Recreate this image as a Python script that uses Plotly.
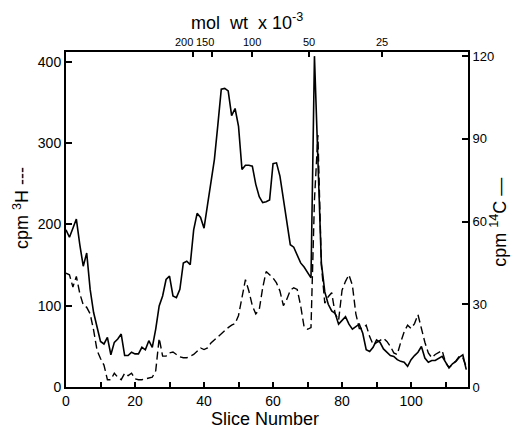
import plotly.graph_objects as go

slices = list(range(0, 117))

# cpm 3H (dashed, left axis)
h3_cpm = [140, 138, 123, 136, 115, 101, 98, 90, 70, 45,
          35, 27, 9, 9, 17, 12, 9, 17, 14, 17,
          10, 9, 9, 10, 11, 12, 20, 60, 38, 38,
          42, 43, 40, 37, 36, 36, 38, 40, 44, 48,
          46, 48, 54, 58, 62, 66, 70, 73, 76, 78,
          88, 110, 132, 118, 100, 90, 95, 122, 142, 138,
          134, 128, 118, 100, 108, 119, 122, 120, 100, 74,
          71, 73, 230, 310, 150, 103, 111, 116, 90, 82,
          119, 130, 138, 125, 90, 72, 72, 76, 62, 52,
          55, 57, 60, 56, 50, 42, 40, 55, 68, 76,
          72, 78, 89, 72, 55, 42, 36, 40, 43, 45,
          30, 24, 28, 32, 38, 36, 25]

# cpm 14C (solid, right axis)
c14_cpm = [57.0, 54.3, 57.6, 60.9, 51.6, 43.8, 48.6, 35.4, 27.0, 22.2,
           16.5, 15.6, 18.0, 11.7, 16.2, 17.4, 19.2, 11.4, 11.4, 12.6,
           12.0, 12.0, 14.4, 13.5, 16.8, 14.4, 21.0, 29.4, 33.0, 39.0,
           40.2, 33.0, 32.4, 35.4, 45.0, 45.6, 44.4, 57.0, 63.0, 61.5,
           57.6, 66.0, 75.0, 82.5, 95.0, 108.0, 108.3, 107.4, 98.4, 101.0,
           94.5, 78.9, 80.4, 80.4, 80.1, 73.5, 69.0, 66.9, 67.2, 67.8,
           81.0, 81.3, 76.5, 67.8, 60.0, 51.6, 50.7, 48.0, 45.0, 43.5,
           41.4, 39.6, 120.0, 78.0, 45.0, 34.5, 30.0, 27.6, 26.7, 22.8,
           24.0, 25.5, 22.8, 21.0, 21.9, 22.8, 19.5, 13.5, 12.9, 14.4,
           17.1, 16.2, 13.8, 12.6, 11.4, 11.1, 9.9, 9.3, 9.0, 7.5,
           9.9, 11.4, 12.6, 14.7, 10.5, 9.0, 9.6, 9.6, 10.5, 11.1,
           9.0, 6.9, 8.4, 9.3, 10.8, 11.7, 6.3]

# molecular weight markers (top axis)
mw_slice_positions = [36.8, 42.3, 53.9, 70.4, 91.6]
mw_labels = ["200", "150", "100", "50", "25"]
mw_label_shift_px = [-9, -7, 0, 0, 0]

x_tickvals = list(range(0, 111, 10))
x_ticktext = [str(v) if v % 20 == 0 else "" for v in x_tickvals]
left_tickvals = [0, 100, 200, 300, 400]
right_tickvals = [0, 30, 60, 90, 120]

FONT = "Liberation Sans, Arial, sans-serif"
NB = "\u00a0"

fig = go.Figure()
fig.add_trace(go.Scatter(x=slices, y=h3_cpm, mode="lines",
                         line=dict(color="black", width=1.4, dash="8px,4px"),
                         xaxis="x", yaxis="y", showlegend=False))
fig.add_trace(go.Scatter(x=slices, y=c14_cpm, mode="lines",
                         line=dict(color="black", width=1.6),
                         xaxis="x", yaxis="y2", showlegend=False))
fig.add_trace(go.Scatter(x=mw_slice_positions, y=[None] * len(mw_slice_positions),
                         mode="markers", marker=dict(opacity=0),
                         xaxis="x2", yaxis="y", showlegend=False, hoverinfo="skip"))


def axis_common(size):
    return dict(showline=True, linecolor="black", linewidth=2, ticks="inside",
                tickcolor="black", tickwidth=1.5, showgrid=False, zeroline=False,
                automargin=False, tickangle=0,
                tickfont=dict(family=FONT, size=size, color="black"))


TITLE_FONT = dict(family=FONT, size=18, color="black")

annotations = [
    dict(text="Slice Number", xref="paper", yref="paper", x=0.495, y=0,
         yshift=-20, xanchor="center", yanchor="top", showarrow=False,
         font=TITLE_FONT),
    dict(text=f"mol{NB}{NB}wt{NB}{NB}x{NB}10<sup>-3</sup>", xref="paper", yref="paper",
         x=0.45, y=1, yshift=31, xanchor="center", yanchor="middle",
         showarrow=False, font=TITLE_FONT),
    dict(text=f"cpm{NB}<sup>3</sup>H{NB}---", xref="paper", yref="paper",
         x=0, xshift=-45, y=0.534, textangle=-90, xanchor="center",
         yanchor="middle", showarrow=False, font=TITLE_FONT),
    dict(text=f"cpm{NB}<sup>14</sup>C{NB}\u2014", xref="paper", yref="paper",
         x=1, xshift=31, y=0.49, textangle=-90, xanchor="center",
         yanchor="middle", showarrow=False, font=TITLE_FONT),
]
for pos, lab, sh in zip(mw_slice_positions, mw_labels, mw_label_shift_px):
    annotations.append(dict(text=lab, xref="x", yref="paper", x=pos, xshift=sh,
                            y=1, yshift=10, xanchor="center", yanchor="middle",
                            showarrow=False,
                            font=dict(family=FONT, size=11, color="black")))

fig.update_layout(
    width=513, height=429,
    margin=dict(l=66, r=45, t=52, b=42, autoexpand=False),
    paper_bgcolor="white", plot_bgcolor="white",
    font=dict(family=FONT, color="black"),
    xaxis=dict(range=[0, 116.5], tickvals=x_tickvals, ticktext=x_ticktext,
               ticklen=5, **axis_common(14)),
    xaxis2=dict(range=[0, 116.5], overlaying="x", side="top", anchor="y",
                tickvals=mw_slice_positions, showticklabels=False, ticklen=5,
                **axis_common(12)),
    yaxis=dict(range=[0, 412], tickvals=left_tickvals, ticklen=6, **axis_common(14)),
    yaxis2=dict(range=[0, 121.5], overlaying="y", side="right", anchor="x",
                tickvals=right_tickvals, ticklen=6, **axis_common(13)),
    annotations=annotations,
)

fig.write_html("out.html", config={"displayModeBar": False},
               post_script="document.body.style.margin='0px';document.body.style.overflow='hidden';")
